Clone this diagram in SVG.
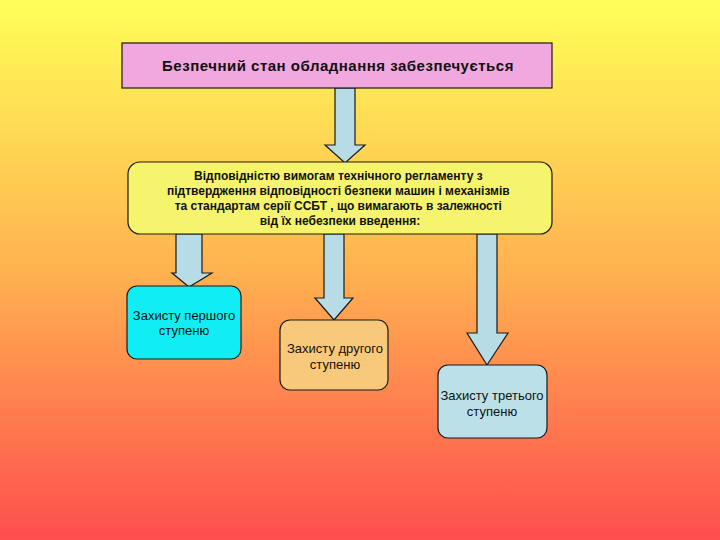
<svg xmlns="http://www.w3.org/2000/svg" width="720" height="540" viewBox="0 0 720 540">
<defs>
<linearGradient id="bg" x1="0" y1="0" x2="0" y2="1">
<stop offset="0" stop-color="#FFFF58"/>
<stop offset="0.5" stop-color="#FFB250"/>
<stop offset="1" stop-color="#FF4E4E"/>
</linearGradient>
</defs>
<style>
.box{stroke:#1a1a1a;stroke-width:1.2}
.arrow{fill:#B8DCE6;stroke:#1a1a1a;stroke-width:1.2;stroke-linejoin:miter}
.t{font-family:"Liberation Sans",Arial,sans-serif;fill:#111;text-anchor:middle}
.b{font-weight:bold}
</style>
<rect width="720" height="540" fill="url(#bg)"/>
<g id="connectors">
<path class="arrow" d="M335,88 L355,88 L355,145 L365,145 L345,163 L325,145 L335,145 Z"/>
<path class="arrow" d="M176,234 L202,234 L202,273 L212,273 L189,287 L172,273 L176,273 Z"/>
<path class="arrow" d="M324,234 L344,234 L344,298 L353,298 L334,320 L315,298 L324,298 Z"/>
<path class="arrow" d="M477,234 L497,234 L497,333 L508,333 L487,365 L467,333 L477,333 Z"/>
</g>
<g id="top">
<rect class="box" x="122" y="43" width="430" height="45" fill="#F0A8DE"/>
<text class="t b" x="338" y="71" font-size="15" letter-spacing="0.5">Безпечний стан обладнання забезпечується</text>
</g>
<g id="middle">
<rect class="box" x="128" y="162" width="424" height="72" rx="12" ry="12" fill="#F6F46C"/>
<text class="t b" font-size="12">
<tspan x="340" y="180">Відповідністю вимогам технічного регламенту з</tspan>
<tspan x="340" y="195">підтвердження відповідності безпеки машин і механізмів</tspan>
<tspan x="340" y="210">та стандартам серії ССБТ , що вимагають в залежності</tspan>
<tspan x="340" y="225">від їх небезпеки введення:</tspan>
</text>
</g>
<g id="level1">
<rect class="box" x="127" y="286" width="114" height="73" rx="10" ry="10" fill="#10EEF4"/>
<text class="t" font-size="13"><tspan x="184" y="320">Захисту першого</tspan><tspan x="184" y="335">ступеню</tspan></text>
</g>
<g id="level2">
<rect class="box" x="280" y="320" width="108" height="70" rx="10" ry="10" fill="#F8C97A"/>
<text class="t" font-size="13"><tspan x="335" y="353">Захисту другого</tspan><tspan x="335" y="369">ступеню</tspan></text>
</g>
<g id="level3">
<rect class="box" x="438" y="365" width="109" height="73" rx="10" ry="10" fill="#BCE0E8"/>
<text class="t" font-size="13"><tspan x="492" y="400">Захисту третього</tspan><tspan x="492" y="416">ступеню</tspan></text>
</g>
</svg>
